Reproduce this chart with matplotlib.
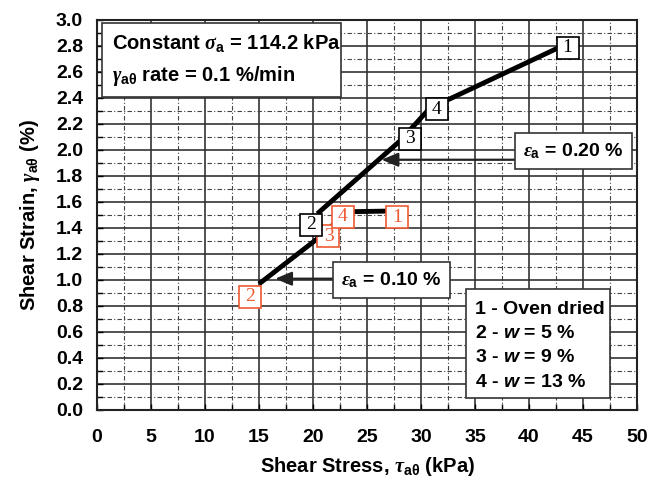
import numpy as np
import matplotlib
matplotlib.use('Agg')
import matplotlib.pyplot as plt
import matplotlib.transforms as mtransforms
from matplotlib.patches import Rectangle
from matplotlib.ticker import MultipleLocator, FormatStrFormatter

# ---------------- data ----------------
soil_ids = ['2', '3', '4', '1']
tau_eps010 = [15.0, 20.6, 23.2, 26.8]      # shear stress at eps_a = 0.10 %
gamma_eps010 = [0.97, 1.33, 1.525, 1.53]   # shear strain at eps_a = 0.10 %
tau_eps020 = [20.4, 28.06, 30.8, 42.56]    # shear stress at eps_a = 0.20 %
gamma_eps020 = [1.51, 2.07, 2.32, 2.78]    # shear strain at eps_a = 0.20 %

x_ticks = [0, 5, 10, 15, 20, 25, 30, 35, 40, 45, 50]
y_ticks = [0.0, 0.2, 0.4, 0.6, 0.8, 1.0, 1.2, 1.4, 1.6, 1.8, 2.0, 2.2, 2.4, 2.6, 2.8, 3.0]

legend_lines = ['1 - Oven dried', r'2 - $\mathsf{w}$ = 5 %',
                r'3 - $\mathsf{w}$ = 9 %', r'4 - $\mathsf{w}$ = 13 %']

# ---------------- style ----------------
plt.rcParams.update({
    'font.family': ['Liberation Sans', 'DejaVu Sans'],
    'font.weight': 'bold',
    'mathtext.fontset': 'custom',
    'mathtext.rm': 'Liberation Sans:bold',
    'mathtext.bf': 'Liberation Sans:bold',
    'mathtext.it': 'Liberation Serif:italic',
    'mathtext.sf': 'Liberation Sans:bold:italic',
})

RED = '#EE5A32'
GRID = '#333333'

fig = plt.figure(figsize=(6.5, 4.84), dpi=100)
ax = fig.add_axes([97 / 650, 1 - 410 / 484, 540 / 650, 390 / 484])
ax.set_xlim(x_ticks[0], x_ticks[-1])
ax.set_ylim(y_ticks[0], y_ticks[-1])
ax.set_xticks(x_ticks)
ax.set_yticks(y_ticks)
ax.xaxis.set_minor_locator(MultipleLocator(2.5))
ax.yaxis.set_minor_locator(MultipleLocator(0.1))
ax.yaxis.set_major_formatter(FormatStrFormatter('%.1f'))
ax.set_axisbelow(True)
ax.grid(which='major', color=GRID, lw=1.2, ls='-')
ax.grid(which='minor', color='#444444', lw=0.8, ls=(0, (4, 2, 1, 2)))
ax.tick_params(which='both', direction='in', length=4, width=1, colors='black',
               top=False, right=False, labelsize=14)
ax.tick_params(axis='x', which='both', pad=14)
ax.tick_params(axis='y', which='both', pad=10)
for lab in ax.get_xticklabels() + ax.get_yticklabels():
    lab.set_fontweight('bold')
for sp in ax.spines.values():
    sp.set_linewidth(1.5)
    sp.set_color('#222222')

ax.set_xlabel(r'Shear Stress, $\tau_{\mathbf{a\theta}}$ (kPa)', fontsize=14.5,
              fontweight='bold', labelpad=6)
ax.set_ylabel(r'Shear Strain, $\gamma_{\mathbf{a\theta}}$ (%)', fontsize=14.5,
              fontweight='bold', labelpad=10)

# ---------------- curves ----------------
ax.plot(tau_eps010, gamma_eps010, color='black', lw=3.5, solid_capstyle='butt', zorder=4)
ax.plot(tau_eps020, gamma_eps020, color='black', lw=3.5, solid_capstyle='butt', zorder=4)

# label boxes (offsets in pixels from each point)
off010 = [(-9, -13), (9, 1), (-5, -5), (11, -6)]
off020 = [(-6, -11), (10, 2), (7, -1), (11, 1)]


def label_boxes(xs, ys, offs, color):
    for sid, x, y, o in zip(soil_ids, xs, ys, offs):
        tr = ax.transData + mtransforms.ScaledTranslation(o[0] / 100, o[1] / 100,
                                                          fig.dpi_scale_trans)
        ax.plot([x], [y], marker='s', ms=16, mfc='white', mec=color, mew=1.2,
                transform=tr, zorder=6, linestyle='none')
        ax.text(x, y, sid, transform=tr, ha='center', va='center', fontsize=14,
                color=color, family='Liberation Serif', fontweight='normal', zorder=7)


label_boxes(tau_eps010, gamma_eps010, off010, RED)
label_boxes(tau_eps020, gamma_eps020, off020, 'black')

# ---------------- eps_a annotations ----------------
arrow_kw = dict(arrowstyle='-|>,head_length=1.0,head_width=0.42', color='#222222',
                lw=1.6, shrinkA=0, shrinkB=0, mutation_scale=10)
ax.annotate('', xy=(26.35, 1.925), xytext=(39.1, 1.925), arrowprops=arrow_kw, zorder=5)
ax.annotate('', xy=(16.5, 1.01), xytext=(21.9, 1.01), arrowprops=arrow_kw, zorder=5)

box_kw = dict(boxstyle='square,pad=0.42', fc='white', ec='#333333', lw=1.2)
ax.text(44.1, 1.99, r'$\varepsilon_{\mathbf{a}}$ = 0.20 %', ha='center', va='center',
        fontsize=14, fontweight='bold', bbox=box_kw, zorder=6)
ax.text(27.25, 1.0, r'$\varepsilon_{\mathbf{a}}$ = 0.10 %', ha='center', va='center',
        fontsize=14, fontweight='bold', bbox=box_kw, zorder=6)

# ---------------- info box ----------------
ax.add_patch(Rectangle((0.0087, 0.803), 0.444, 0.19, transform=ax.transAxes,
                       fc='white', ec='#333333', lw=1.2, zorder=3))
ax.text(0.028, 0.925, r'Constant $\sigma_{\mathbf{a}}$ = 114.2 kPa', transform=ax.transAxes,
        ha='left', va='baseline', fontsize=14.5, fontweight='bold', zorder=4)
ax.text(0.028, 0.844, r'$\gamma_{\mathbf{a\theta}}$ rate = 0.1 %/min', transform=ax.transAxes,
        ha='left', va='baseline', fontsize=14.5, fontweight='bold', zorder=4)

# ---------------- legend box ----------------
ax.add_patch(Rectangle((0.683, 0.03), 0.267, 0.2795, transform=ax.transAxes,
                       fc='white', ec='#333333', lw=1.2, zorder=3))
for i, line in enumerate(legend_lines):
    ax.text(0.700, 0.2474 - i * 0.0628, line, transform=ax.transAxes, ha='left',
            va='baseline', fontsize=14, fontweight='bold', zorder=4)

fig.savefig('out.png', dpi=100)
